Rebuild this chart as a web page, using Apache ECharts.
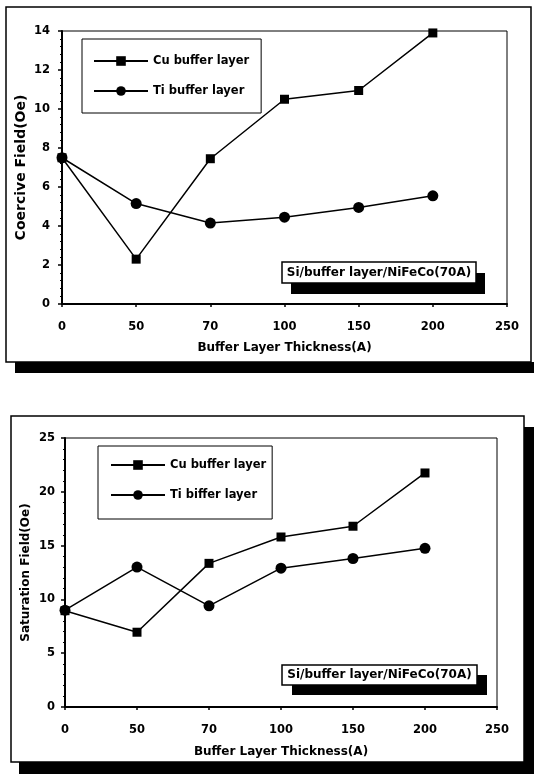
<!DOCTYPE html>
<html>
<head>
<meta charset="utf-8">
<script src="https://cdn.jsdelivr.net/npm/echarts@6/dist/echarts.min.js"></script>
<style>
html,body{margin:0;padding:0;background:#fff;}
#c{width:534px;height:774px;}
</style>
</head>
<body>
<div id="c"></div>
<script>
// ---- data ----
const thickness = ['0', '50', '70', '100', '150', '200', '250'];
const coerciveCu = [7.5, 2.3, 7.45, 10.5, 10.95, 13.9];
const coerciveTi = [7.5, 5.15, 4.15, 4.45, 4.95, 5.55];
const saturationCu = [8.95, 6.95, 13.35, 15.8, 16.8, 21.75];
const saturationTi = [9.0, 13.0, 9.4, 12.9, 13.8, 14.75];
const seriesNamesTop = ['Cu buffer layer', 'Ti buffer layer'];
const seriesNamesBottom = ['Cu buffer layer ', 'Ti biffer layer'];
const sampleLabel = 'Si/buffer layer/NiFeCo(70A)';
const xTitle = 'Buffer Layer Thickness(A)';
const yTitleTop = 'Coercive Field(Oe)';
const yTitleBottom = 'Saturation Field(Oe)';

const FONT = "'DejaVu Sans', 'Liberation Sans', Arial, sans-serif";
function txt(size) { return {color: '#000', fontFamily: FONT, fontWeight: 'bold', fontSize: size}; }

function xAxisCfg(gridIndex, margin, nameGap) {
  return {
    type: 'category', gridIndex: gridIndex, data: thickness, boundaryGap: false,
    name: xTitle, nameLocation: 'middle', nameGap: nameGap, nameTextStyle: txt(12),
    nameMoveOverlap: false,
    axisLine: {lineStyle: {color: '#000', width: 2}},
    axisTick: {show: true, length: 3, lineStyle: {color: '#000', width: 1.5}},
    axisLabel: Object.assign({margin: margin, interval: 0}, txt(11.5)),
    splitLine: {show: false}
  };
}
function yAxisCfg(gridIndex, max, interval, name, nameSize, nameGap, margin) {
  return {
    type: 'value', gridIndex: gridIndex, min: 0, max: max, interval: interval,
    name: name, nameLocation: 'middle', nameGap: nameGap, nameTextStyle: txt(nameSize),
    nameMoveOverlap: false,
    axisLine: {show: true, lineStyle: {color: '#000', width: 2}},
    axisTick: {show: true, length: 4, lineStyle: {color: '#000', width: 1.5}},
    minorTick: {show: true, splitNumber: 5, length: 2, lineStyle: {color: '#000', width: 1}},
    axisLabel: Object.assign({margin: margin}, txt(11.5)),
    splitLine: {show: false}
  };
}
function lineSeries(name, data, symbol, idx) {
  return {
    type: 'line', name: name, data: data, xAxisIndex: idx, yAxisIndex: idx,
    symbol: symbol, symbolSize: symbol === 'rect' ? 9 : 11,
    lineStyle: {color: '#000', width: 1.5},
    itemStyle: {color: '#000'},
    z: 5
  };
}
function legendCfg(names, left, top, padding) {
  return {
    data: names, orient: 'vertical', left: left, top: top,
    padding: padding, itemGap: 18, itemWidth: 54, itemHeight: 12,
    borderColor: '#000', borderWidth: 1, backgroundColor: '#fff',
    textStyle: txt(11.5), selectedMode: false, z: 6
  };
}
function labelBox(x, y, w, h, sx, sy) {
  return [
    {type: 'rect', shape: {x: x + sx, y: y + sy, width: w, height: h}, style: {fill: '#000'}, z: 20},
    {type: 'rect', shape: {x: x, y: y, width: w, height: h}, style: {fill: '#fff', stroke: '#000', lineWidth: 1.5}, z: 21},
    {type: 'text', x: x + w / 2, y: y + h / 2, style: {text: sampleLabel, fill: '#000', font: 'bold 12px ' + FONT, textAlign: 'center', textVerticalAlign: 'middle'}, z: 22}
  ];
}

const chart = echarts.init(document.getElementById('c'), null, {renderer: 'canvas'});
chart.setOption({
  backgroundColor: '#fff',
  animation: false,
  graphic: [].concat(
    [
      {type: 'rect', shape: {x: 15, y: 362, width: 519, height: 11}, style: {fill: '#000'}, z: -2},
      {type: 'rect', shape: {x: 6, y: 7, width: 525, height: 355}, style: {fill: '#fff', stroke: '#000', lineWidth: 1.5}, z: -1},
      {type: 'rect', shape: {x: 524, y: 427, width: 10, height: 347}, style: {fill: '#000'}, z: -2},
      {type: 'rect', shape: {x: 19, y: 762, width: 515, height: 12}, style: {fill: '#000'}, z: -2},
      {type: 'rect', shape: {x: 11, y: 416, width: 513, height: 346}, style: {fill: '#fff', stroke: '#000', lineWidth: 1.5}, z: -1}
    ],
    labelBox(282, 262, 194, 21, 9, 11),
    labelBox(282, 665, 195, 20, 10, 10)
  ),
  grid: [
    {left: 62, right: 534 - 507, top: 31, bottom: 774 - 304, show: true, borderColor: '#000', borderWidth: 1, backgroundColor: 'transparent'},
    {left: 65, right: 534 - 497, top: 438, bottom: 774 - 707, show: true, borderColor: '#000', borderWidth: 1, backgroundColor: 'transparent'}
  ],
  legend: [
    legendCfg(seriesNamesTop, 82, 39, [16, 12, 16, 11]),
    legendCfg(seriesNamesBottom, 98, 446, [13, 2, 18, 12])
  ],
  xAxis: [xAxisCfg(0, 17, 38), xAxisCfg(1, 17, 39)],
  yAxis: [
    yAxisCfg(0, 14, 2, yTitleTop, 14, 34, 12),
    yAxisCfg(1, 25, 5, yTitleBottom, 12, 33, 10)
  ],
  series: [
    lineSeries(seriesNamesTop[0], coerciveCu, 'rect', 0),
    lineSeries(seriesNamesTop[1], coerciveTi, 'circle', 0),
    lineSeries(seriesNamesBottom[0], saturationCu, 'rect', 1),
    lineSeries(seriesNamesBottom[1], saturationTi, 'circle', 1)
  ]
});
</script>
</body>
</html>
